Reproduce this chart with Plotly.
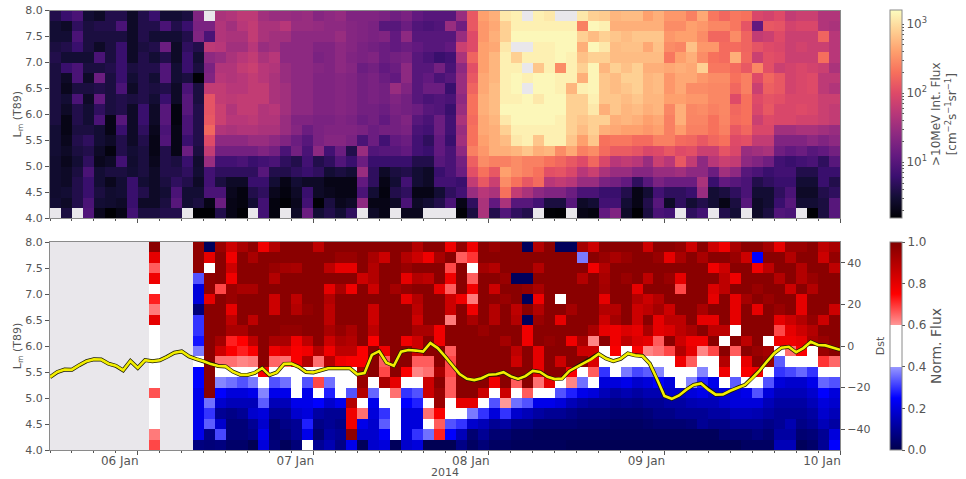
import math
from datetime import datetime, timedelta
import plotly.graph_objects as go

_ = None
START = datetime(2014, 1, 5, 12)
L_CENTRES = [7.9, 7.7, 7.5, 7.3, 7.1, 6.9, 6.7, 6.5, 6.3, 6.1, 5.9, 5.7, 5.5, 5.3, 5.1, 4.9, 4.7, 4.5, 4.3, 4.1]

# >10 MeV integral flux, one list per L bin, top to bottom, 72 1.5-hour bins
FLUX_79 = [4,6,8,3,2.5,4,4,2.5,4,6,3,3,3.5,20,_,40,45,55,55,35,30,30,28,30,22,25,28,20,20,20,18,15,18,12,10,10,10,30,130,400,500,1150,1300,_,1300,1150,_,_,1150,800,750,550,600,600,400,500,350,350,250,450,220,170,220,200,90,80,100,60,70,70,45,45]
FLUX_77 = [3,2.5,5,3.5,4,4,8,2.5,4,4,8,4,6,18,18,45,35,50,60,40,40,50,30,30,28,25,25,22,20,18,10,10,14,9,8,9,30,15,130,350,450,800,1300,1300,1300,1300,1300,1300,250,1450,1300,500,500,500,500,500,300,300,400,350,280,280,220,120,12,130,120,80,90,90,45,40]
FLUX_75 = [3,3,8,3.5,3.5,3.5,3.5,2.5,4,3,3,3,4,20,8,45,40,40,60,40,35,35,25,25,25,25,30,22,20,18,20,12,25,10,10,10,10,30,100,350,500,800,1450,1450,1450,1450,1450,1450,800,600,800,700,600,700,700,700,350,400,400,300,170,170,300,160,60,70,100,70,70,70,160,50]
FLUX_73 = [3.5,4,6,3.5,2.5,3.5,6,2.5,3.5,4,14,2.5,5,4,55,50,35,35,50,30,35,25,25,25,20,20,25,22,18,16,14,12,14,12,10,10,12,70,100,400,450,1150,_,_,1300,1300,1450,1450,500,1450,1150,600,650,650,450,650,300,270,650,350,350,180,180,160,120,100,90,70,80,70,70,50]
FLUX_71 = [4,3,3,3,8,3.5,6,2.5,4,3,4,2.5,6,3,25,30,40,50,60,40,50,25,25,25,18,20,25,20,18,20,14,16,18,10,8,6,7,40,160,400,550,1300,800,1300,1300,1300,1450,1300,650,800,800,600,600,600,600,600,220,400,500,300,200,180,500,170,70,110,100,70,70,70,190,50]
FLUX_69 = [3.5,6,8,3.5,3.5,4,6,3.5,4,4,9,3,6,3.5,18,45,45,60,70,50,45,30,25,25,22,20,25,22,14,16,12,14,25,10,10,16,8,25,110,400,550,1300,1300,_,700,1300,300,1300,800,1400,550,800,650,800,500,500,450,500,450,800,220,220,180,130,280,110,70,80,90,80,70,40]
FLUX_67 = [3.5,2.5,8,2.5,14,3.5,6,3,4,3,9,3,3.5,1.6,20,50,45,50,60,50,40,30,25,25,20,20,22,20,16,18,14,12,25,10,12,8,10,30,130,450,550,1300,1450,1300,1450,1450,1300,1300,500,1400,700,600,800,800,550,600,350,450,450,350,300,300,200,250,100,170,130,80,90,100,55,55]
FLUX_65 = [3.5,2.2,3.5,3.5,4,3.5,8,2.5,4,3.5,4,2.5,8,3.5,60,60,50,50,60,60,40,35,25,25,20,20,22,20,16,18,16,30,20,10,14,14,6,30,160,450,600,1300,1450,_,1450,1450,1300,550,1300,1400,700,600,700,800,550,600,350,450,300,300,280,280,170,250,70,150,130,80,90,100,55,45]
FLUX_63 = [3.5,3,8,2.5,12,3.5,4,3.5,4,3,6,2.5,10,3.5,120,60,55,60,60,60,40,35,25,25,20,20,22,20,16,18,16,20,16,10,8,9,8,25,200,500,600,1300,1300,1450,1150,1450,1450,800,800,1300,700,700,600,700,550,550,400,400,350,350,280,280,100,200,100,120,110,90,90,90,70,70]
FLUX_61 = [3.5,2.5,4,3,5,3.5,4,2.5,6,2.5,10,1.8,10,4,120,70,45,60,60,45,50,35,25,25,20,20,22,20,16,16,14,18,16,14,10,9,6,30,200,500,600,1450,1450,1450,1450,1450,1450,800,800,1150,500,700,550,600,500,550,280,500,280,300,250,280,170,200,90,130,90,90,100,90,70,60]
FLUX_59 = [3.5,2,4,3,8,2,10,2.5,6,2.5,10,1.8,8,4,130,70,50,50,55,45,45,30,20,20,18,18,20,18,14,16,12,16,20,10,8,14,7,40,180,450,550,1150,1450,1450,1450,1450,1300,800,700,800,800,500,550,500,400,450,250,500,270,270,200,270,180,200,70,100,90,90,80,80,70,60]
FLUX_57 = [3,2,3.5,3.5,3,2,6,2.5,5,2.2,8,2,8,4,170,45,40,45,45,40,40,30,22,14,18,20,20,20,18,14,16,16,18,8,7,14,7,30,200,450,500,800,1300,1300,1300,1300,1300,800,600,800,500,450,400,400,350,400,250,380,250,250,200,250,130,170,90,90,35,35,40,40,35,30]
FLUX_55 = [3,2.2,4,5,3,2.5,4,2.5,4,2,9,2,6,4,100,25,25,25,30,30,25,20,14,10,18,22,22,18,8,14,7,12,14,7,5,12,6,35,200,400,500,600,1150,1300,700,1300,1300,700,400,700,200,220,220,180,180,250,250,180,170,130,170,200,100,110,60,60,20,20,20,25,20,25]
FLUX_53 = [3,2.5,3.5,4,2.5,1.8,4,3,3.5,2,4,2,14,3.5,60,16,16,16,16,20,16,8,16,8,25,7,14,4,30,9,10,10,12,7,6,12,8,25,250,350,500,500,550,700,500,550,300,450,250,300,180,140,140,120,90,100,130,100,110,70,70,120,90,30,35,40,15,12,14,10,12,16]
FLUX_51 = [2.8,2.2,3,5,2.2,2.5,7,2.8,3.5,2.2,4,3.5,6,2.8,30,7,7,8,6,7,8,5,4,7,4,5,9,6,14,6,6,6,6,4,4,10,8,16,150,300,250,250,300,250,250,200,170,130,100,170,90,50,60,50,30,70,50,130,60,25,50,70,60,25,20,15,7,6,7,8,5,10]
FLUX_49 = [2.8,2.5,3.5,8,3,3.5,3.5,3,3.5,2.5,4,4,5,3,7,5,5,5,5,10,4,4,5,6,5,3,3.5,3,30,5,2.5,3.5,4,3,2.5,6,8,14,110,200,130,400,300,250,200,110,120,90,50,70,40,30,30,22,22,30,30,35,25,25,14,35,25,10,8,6,7,7,4,4,6,6]
FLUX_47 = [2.8,2.5,4,6,3,2.2,3,6,3,2.5,3.5,5,4,2.5,7,3.5,2.5,2.5,6,6,3,2,3,2.5,2.5,2,2,2,12,5,2,3,7,3,2.5,7,7,6,60,130,70,300,200,130,180,50,60,50,30,30,18,16,12,5,10,18,14,14,14,40,6,12,10,8,4,5,6,6,3,3,6,4]
FLUX_45 = [2.8,3,4,6,3.5,2.8,3,6,4,2.5,3,8,3,3,8,8,2.2,1.8,4,5,2.2,1.8,2.5,6,2.5,2.2,2,2,8,3,1.8,4,5,2,2,3,5,7,30,50,40,200,60,40,25,20,20,14,8,8,6,6,4,2,3,7,5,5,6,30,3,3.5,5,8,3,3,5,8,2.5,2.5,4,5]
FLUX_43 = [3,2.5,4,8,3,2.8,2.5,6,2.5,2.5,3.5,10,3,3.5,2,14,2,1.8,3,7,1.8,1.6,2.2,7,1.6,3.5,2.2,2.5,25,2,2,2.5,8,2.5,3,4,8,2,5,40,12,40,10,10,7,3.5,3.5,10,2.5,3,7,7,3,2,4,10,2.5,5,3,4,3,2,3.5,10,2.5,3,6,10,3,3,3.5,10]
FLUX_41 = [_,3.5,_,9,2.2,1.4,2,7,3.5,3.5,4,4,_,1.4,1.4,4,2,1.6,_,7,1.8,_,2.5,14,3,4,3,5,_,2.5,2,_,2.2,2.2,_,_,_,1.6,3.5,40,4,9,5,4,_,1.6,1.5,_,2,1.8,12,20,2.5,1.5,3.5,8,7,_,5,7,_,4,3,_,2.5,3.5,9,8,_,1.5,3.5,10]
FLUX_ROWS = [FLUX_79, FLUX_77, FLUX_75, FLUX_73, FLUX_71, FLUX_69, FLUX_67, FLUX_65, FLUX_63, FLUX_61,
             FLUX_59, FLUX_57, FLUX_55, FLUX_53, FLUX_51, FLUX_49, FLUX_47, FLUX_45, FLUX_43, FLUX_41]

# Normalised flux: the lone early column, then the continuous part from bin 13 on
NORM_EARLY_COLUMN = [.98,.8,.66,.78,.5,.72,.63,.8,.5,.5,.5,.5,.5,.5,.67,.5,.5,.5,.63,.68]
NORM_79 = [.97,.02,.95,.85,.92,.97,.78,.9,.98,.98,.98,.88,.98,.98,.98,.98,.98,.98,.98,.98,.9,.98,.98,.78,.96,.78,.98,.95,.98,.98,.02,.9,.98,.02,.02,.93,.85,.98,.98,.98,.98,.85,.98,.98,.96,.85,.98,.85,.78,.92,.98,.98,.93,.8,.95,.95,.98,.88,.92]
NORM_77 = [.97,.8,.98,.78,.98,.92,.98,.98,.98,.98,.98,.98,.98,.95,.95,.98,.92,.85,.98,.9,.85,.78,.92,.98,.66,.7,.98,.98,.98,.98,.98,.98,.98,.98,.98,.37,.98,.95,.92,.95,.98,.98,.95,.8,.92,.98,.92,.98,.98,.95,.85,.25,.98,.98,.9,.98,.98,.85,.96]
NORM_75 = [.97,.5,.98,.85,.98,.98,.98,.95,.93,.92,.98,.98,.88,.8,.8,.98,.9,.98,.98,.95,.98,.98,.98,.68,.98,.5,.93,.9,.98,.98,.98,.9,.98,.98,.98,.98,.78,.9,.98,.98,.98,.98,.98,.98,.98,.98,.98,.78,.85,.98,.98,.78,.88,.98,.98,.9,.98,.98,.88]
NORM_73 = [.33,.97,.98,.78,.98,.98,.98,.9,.98,.98,.98,.98,.98,.98,.98,.85,.9,.98,.98,.8,.9,.88,.98,.78,.98,.66,.98,.98,.95,.02,.02,.98,.98,.98,.98,.9,.98,.92,.98,.95,.98,.88,.98,.95,.8,.98,.98,.98,.88,.78,.98,.98,.98,.9,.98,.9,.95,.98,.98]
NORM_71 = [.2,.97,.68,.95,.92,.92,.98,.98,.98,.98,.98,.98,.8,.92,.78,.98,.85,.98,.93,.96,.98,.98,.8,.66,.98,.78,.98,.85,.98,.98,.96,.92,.98,.98,.98,.98,.98,.93,.98,.98,.8,.98,.98,.98,.68,.98,.98,.82,.88,.98,.98,.95,.98,.98,.85,.98,.9,.98,.98]
NORM_69 = [.2,.8,.98,.95,.98,.98,.98,.85,.98,.88,.98,.98,.9,.98,.98,.98,.98,.98,.98,.8,.9,.98,.98,.85,.78,.63,.98,.97,.95,.98,.02,.78,.98,.5,.98,.98,.98,.8,.98,.98,.9,.85,.9,.98,.98,.98,.98,.8,.98,.8,.93,.98,.95,.98,.98,.8,.98,.98,.98]
NORM_67 = [.06,.98,.98,.8,.98,.98,.98,.85,.98,.9,.96,.98,.88,.98,.98,.98,.85,.98,.98,.98,.88,.98,.98,.85,.98,.78,.98,.9,.98,.88,.98,.9,.98,.98,.93,.98,.98,.9,.9,.98,.85,.88,.93,.85,.98,.98,.92,.98,.98,.8,.98,.8,.98,.95,.98,.8,.98,.98,.85]
NORM_65 = [.3,.98,.98,.88,.98,.88,.98,.98,.98,.98,.98,.98,.88,.98,.98,.98,.85,.98,.98,.98,.85,.98,.98,.63,.98,.92,.98,.9,.98,.9,.02,.95,.98,.8,.98,.98,.98,.85,.93,.98,.85,.98,.8,.88,.88,.98,.8,.8,.98,.8,.98,.98,.98,.8,.85,.9,.96,.85,.98]
NORM_63 = [.3,.98,.98,.92,.92,.98,.98,.98,.96,.96,.98,.98,.92,.96,.92,.98,.88,.98,.98,.98,.92,.92,.78,.98,.98,.98,.95,.98,.98,.98,.78,.98,.98,.98,.98,.98,.92,.8,.78,.82,.8,.92,.8,.82,.88,.92,.98,.88,.88,.5,.98,.98,.98,.68,.8,.85,.9,.98,.98]
NORM_61 = [.27,.98,.93,.72,.75,.88,.98,.92,.92,.78,.88,.98,.85,.92,.9,.98,.76,.98,.98,.78,.85,.98,.78,.98,.98,.98,.98,.98,.93,.98,.78,.98,.96,.98,.78,.92,.62,.98,.78,.88,.82,.8,.66,.98,.85,.78,.78,.98,.5,.98,.88,.98,.5,.78,.78,.8,.92,.95,.98]
NORM_59 = [.37,.98,.85,.76,.72,.76,.98,.78,.82,.76,.78,.9,.78,.88,.88,.76,.98,.78,.98,.98,.85,.98,.98,.66,.98,.98,.98,.98,.98,.88,.98,.8,.98,.98,.98,.85,.85,.5,.76,.5,.76,.62,.64,.68,.9,.8,.62,.68,.98,.66,.98,.95,.93,.5,.64,.76,.5,.95,.98]
NORM_57 = [.5,.98,.64,.64,.62,.63,.98,.65,.64,.76,.9,.64,.9,.78,.76,.76,.98,.66,.98,.98,.66,.66,.98,.68,.98,.98,.98,.98,.98,.85,.98,.8,.98,.85,.98,.98,.82,.5,.5,.5,.5,.5,.5,.5,.78,.66,.5,.5,.9,.5,.8,.98,.95,.34,.5,.5,.5,.7,.65]
NORM_55 = [.25,.98,.5,.5,.5,.5,.76,.5,.5,.5,.5,.5,.5,.5,.5,.92,.98,.68,.98,.76,.62,.64,.92,.68,.98,.98,.98,.98,.98,.98,.98,.8,.98,.98,.76,.5,.66,.3,.5,.37,.32,.34,.38,.5,.5,.5,.38,.5,.78,.5,.76,.78,.5,.3,.32,.35,.3,.5,.5]
NORM_53 = [.25,.98,.38,.36,.33,.37,.5,.33,.36,.5,.33,.68,.36,.5,.5,.95,.5,.92,.8,.5,.5,.85,.98,.66,.98,.98,.98,.78,.98,.66,.98,.64,.8,.5,.62,.36,.5,.2,.2,.22,.18,.2,.25,.2,.5,.38,.28,.22,.5,.34,.5,.5,.33,.2,.18,.18,.22,.35,.33]
NORM_51 = [.22,.98,.25,.2,.2,.22,.38,.22,.22,.5,.22,.5,.28,.5,.33,.9,.35,.5,.64,.3,.33,.85,.95,.66,.98,.98,.85,.5,.85,.5,.66,.5,.5,.33,.28,.22,.2,.15,.12,.14,.12,.14,.14,.18,.18,.2,.22,.18,.2,.2,.22,.33,.2,.15,.15,.15,.18,.25,.2]
NORM_49 = [.22,.36,.18,.15,.15,.15,.34,.15,.15,.22,.22,.25,.18,.22,.9,.5,.22,.5,.5,.25,.28,.5,.95,.5,.8,.8,.5,.33,.6,.36,.33,.22,.22,.2,.15,.12,.1,.1,.08,.09,.08,.1,.1,.12,.12,.14,.15,.15,.18,.2,.2,.2,.15,.12,.12,.12,.15,.2,.18]
NORM_47 = [.22,.3,.1,.08,.1,.18,.2,.1,.1,.18,.2,.12,.1,.1,.78,.64,.2,.3,.5,.2,.2,.64,.76,.5,.5,.37,.3,.2,.3,.18,.15,.12,.1,.1,.08,.06,.06,.06,.05,.05,.05,.06,.08,.08,.1,.1,.1,.12,.12,.15,.15,.14,.12,.1,.1,.1,.12,.18,.15]
NORM_45 = [.22,.34,.18,.06,.06,.1,.18,.05,.08,.1,.28,.08,.1,.08,.78,.22,.18,.34,.5,.2,.2,.42,.66,.33,.3,.18,.15,.1,.12,.08,.08,.05,.05,.05,.05,.04,.04,.04,.03,.03,.03,.04,.05,.05,.05,.06,.1,.08,.08,.1,.1,.1,.08,.1,.14,.08,.1,.15,.12]
NORM_43 = [.22,.08,.32,.06,.06,.08,.22,.05,.06,.1,.22,.05,.12,.1,.97,.18,.18,.24,.5,.2,.3,.36,.72,.25,.15,.05,.1,.05,.05,.03,.03,.02,.02,.02,.02,.02,.02,.02,.02,.02,.02,.02,.02,.02,.02,.02,.02,.02,.05,.05,.05,.07,.05,.12,.12,.05,.06,.1,.2]
NORM_41 = [.07,.06,.07,.04,.04,.01,.2,.06,.02,.06,.5,.1,.14,.08,.22,.02,.18,.2,.02,.18,.2,.01,.01,.01,.08,.03,.06,.03,.03,.02,.02,.02,.02,.02,.01,.01,.01,.01,.01,.01,.01,.01,.01,.01,.01,.01,.01,.01,.01,.01,.03,.03,.03,.15,.15,.02,.04,.1,.25]
NORM_ROWS = [NORM_79, NORM_77, NORM_75, NORM_73, NORM_71, NORM_69, NORM_67, NORM_65, NORM_63, NORM_61,
             NORM_59, NORM_57, NORM_55, NORM_53, NORM_51, NORM_49, NORM_47, NORM_45, NORM_43, NORM_41]

# Hourly Dst index, nT, from 05 Jan 12:00
DST = [-15,-12.5,-11.3,-11.4,-9.2,-7.3,-6.4,-6.5,-8.5,-9.5,-11.7,-7.2,-10.5,-6.8,-7.3,-6.9,-5.2,-3.2,-2.6,-5,
       -6.3,-7.3,-8.7,-9.6,-9.8,-12.3,-13.8,-13.9,-12.9,-10.6,-14,-12.7,-8.6,-8.5,-10,-12.5,-12.7,-11.8,-10.7,-10.7,
       -10.7,-10.7,-13.6,-13,-4.3,-2.5,-8,-9.5,-2.7,-1.9,-2.2,-2.7,1.4,-1,-5,-9.5,-13.5,-15.8,-16.4,-15.5,
       -13.8,-13.6,-12.6,-14.6,-15.8,-14.5,-12,-12.5,-14.8,-15.9,-15.7,-12,-10,-8,-6.3,-3.8,-6,-7.3,-6.2,-3.6,
       -4.5,-4.8,-8.5,-16,-24,-25.4,-23.8,-21,-18.7,-18,-21,-23.4,-23.3,-21.5,-20,-18.7,-15.5,-11.8,-7.5,-3.5,
       -0.8,-0.4,-3,-1,2,0.5,0.3,-0.8,-1.8]

FLUX_DECADES = [1, 2, 3]
FLUX_DECADE_TEXT = ["10<sup>1</sup>", "10<sup>2</sup>", "10<sup>3</sup>"]
FLUX_LOG_STEPS = [2, 3, 4, 5, 6, 7, 8, 9]
NORM_TICKS = [0, 0.2, 0.4, 0.6, 0.8, 1.0]
DST_TICKS = [-40, -20, 0, 20, 40]

for row in FLUX_ROWS:
    assert len(row) == 72, len(row)
for i, row in enumerate(NORM_ROWS):
    assert len(row) == 59, (i, len(row))
assert len(DST) == 109, len(DST)

WIDTH, HEIGHT = 966, 479
INK = "#555555"
SPINE = "#8a8a8a"
GAP = "#e9e7eb"
FONT = "DejaVu Sans"
ZMIN, ZMAX = 0.19, 3.2

time_centres = [START + timedelta(minutes=45 + 90 * i) for i in range(72)]
dst_times = [START + timedelta(hours=i) for i in range(len(DST))]
flux_z = [[None if v is None else math.log10(v) for v in row] for row in FLUX_ROWS]
norm_z = [[None] * 9 + [e] + [None] * 3 + row for e, row in zip(NORM_EARLY_COLUMN, NORM_ROWS)]

# colorbar ticks: labelled decades plus unlabelled log steps inside the range
flux_ticks = list(FLUX_DECADES)
flux_tick_text = list(FLUX_DECADE_TEXT)
for decade in [0, 1, 2, 3]:
    for step in FLUX_LOG_STEPS:
        pos = decade + math.log10(step)
        if ZMIN <= pos <= ZMAX:
            flux_ticks.append(pos)
            flux_tick_text.append("")

MAGMA = [[0, "#000004"], [.1, "#140e36"], [.2, "#3b0f70"], [.3, "#641a80"], [.4, "#8c2981"], [.5, "#b73779"],
         [.6, "#de4968"], [.7, "#f7705c"], [.8, "#fe9f6d"], [.9, "#fecf92"], [1, "#fcfdbf"]]
BANDED_SEISMIC = [[0, "#00004d"], [.25, "#0000ff"], [.4, "#9999ff"], [.4, "#ffffff"], [.6, "#ffffff"],
                  [.6, "#ff9999"], [.75, "#ff0000"], [1, "#800000"]]


def ydom(top, bottom):
    return [1 - bottom / HEIGHT, 1 - top / HEIGHT]


def cbar(top, bottom, ticklen, **kw):
    return dict(x=890 / WIDTH, xanchor="left", xpad=0, ypad=0, thickness=12, lenmode="fraction",
                len=(bottom - top) / HEIGHT, y=1 - (top + bottom) / 2 / HEIGHT, yanchor="middle",
                outlinecolor=SPINE, outlinewidth=1, ticks="outside", ticklen=ticklen, tickcolor=INK,
                tickfont=dict(family=FONT, size=12, color=INK), **kw)


fig = go.Figure()
fig.add_trace(go.Heatmap(
    x=time_centres, y=L_CENTRES, z=flux_z, xaxis="x", yaxis="y", colorscale=MAGMA, zmin=ZMIN, zmax=ZMAX,
    hoverongaps=False,
    colorbar=cbar(10.5, 218, 2, tickmode="array", tickvals=flux_ticks, ticktext=flux_tick_text,
                  title=dict(text=">10MeV Int. Flux<br>[cm<sup>\u22122</sup>s<sup>\u22121</sup>sr<sup>\u22121</sup>]",
                             side="right", font=dict(family=FONT, size=12, color=INK)))))
fig.add_trace(go.Heatmap(
    x=time_centres, y=L_CENTRES, z=norm_z, xaxis="x2", yaxis="y2", colorscale=BANDED_SEISMIC, zmin=0, zmax=1,
    hoverongaps=False,
    colorbar=cbar(242, 450, 3, tickmode="array", tickvals=NORM_TICKS, ticktext=[f"{v:.1f}" for v in NORM_TICKS],
                  title=dict(text="Norm. Flux", side="right", font=dict(family=FONT, size=14, color=INK)))))
fig.add_trace(go.Scatter(x=dst_times, y=DST, xaxis="x2", yaxis="y3", mode="lines",
                         line=dict(color="#1a1a00", width=4), showlegend=False, hoverinfo="skip"))
fig.add_trace(go.Scatter(x=dst_times, y=DST, xaxis="x2", yaxis="y3", mode="lines",
                         line=dict(color="#f2ee00", width=2.6), showlegend=False))

X_RANGE = [START, datetime(2014, 1, 10)]
xcommon = dict(type="date", range=X_RANGE, domain=[50 / WIDTH, 840 / WIDTH], showgrid=False, zeroline=False,
               automargin=False, showline=True, linecolor=SPINE, linewidth=1, mirror=True, ticks="outside", ticklen=4,
               tickcolor=INK, tick0="2014-01-06", dtick=86400000,
               minor=dict(ticks="outside", ticklen=2, tickcolor=INK, dtick=3 * 3600000, showgrid=False),
               tickfont=dict(family=FONT, size=12, color=INK))
ycommon = dict(range=[4, 8], dtick=0.5, tick0=4, tickformat=".1f", showgrid=False, zeroline=False, showline=True,
               automargin=False, linecolor=SPINE, linewidth=1, mirror=True, ticks="outside", ticklen=4, tickcolor=INK,
               tickfont=dict(family=FONT, size=11, color=INK),
               title=dict(text="L<sub>m</sub> (T89)", font=dict(family=FONT, size=11, color=INK), standoff=0))

fig.update_layout(
    width=WIDTH, height=HEIGHT, margin=dict(l=0, r=0, t=0, b=0), autosize=False, showlegend=False,
    paper_bgcolor="white", plot_bgcolor=GAP,
    xaxis=dict(xcommon, anchor="y", showticklabels=False),
    yaxis=dict(ycommon, anchor="x", domain=ydom(10.5, 218)),
    xaxis2=dict(xcommon, anchor="y2", tickformat="%d %b", ticklabelshift=-18, ticklabelstandoff=-4,
                title=dict(text="2014", font=dict(family=FONT, size=11, color=INK), standoff=2)),
    yaxis2=dict(ycommon, anchor="x2", domain=ydom(242, 450)),
    yaxis3=dict(range=[-50, 50], overlaying="y2", side="right", anchor="x2", tickmode="array", tickvals=DST_TICKS,
                automargin=False, showgrid=False, zeroline=False, ticks="outside", ticklen=4, tickcolor=INK,
                showline=False, tickfont=dict(family=FONT, size=11, color=INK),
                title=dict(text="Dst", font=dict(family=FONT, size=11, color=INK), standoff=6)),
)

fig.write_html("out.html", config={"displayModeBar": False}, post_script="document.body.style.margin='0';")
